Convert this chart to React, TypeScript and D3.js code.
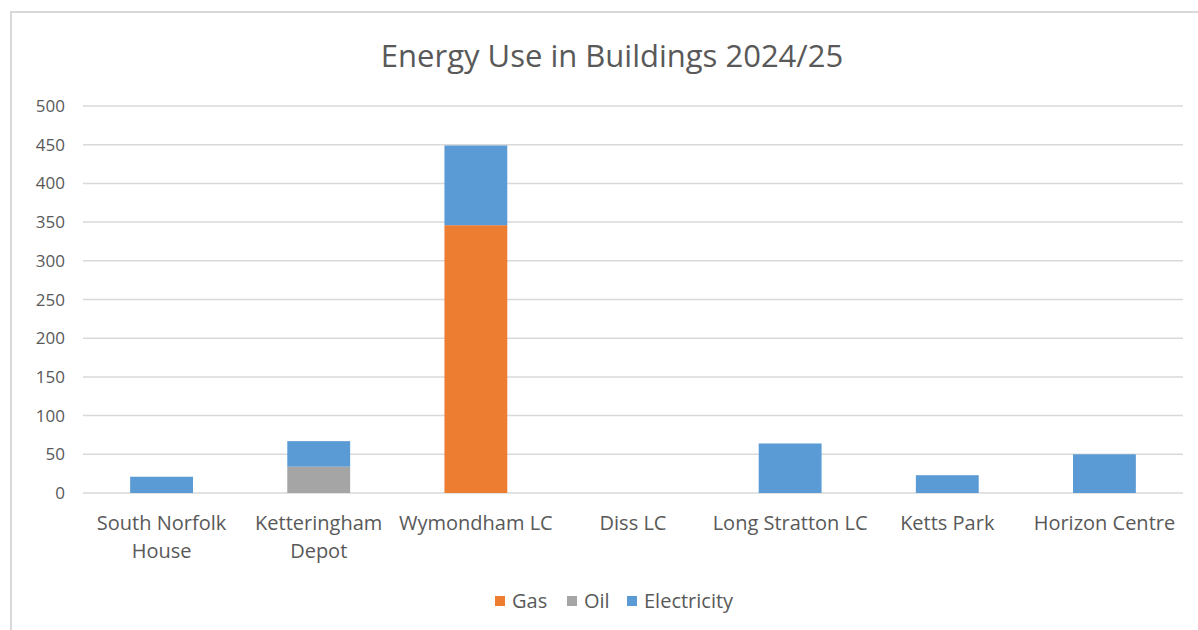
import React, { useEffect, useRef } from 'react';
import * as d3 from 'd3';

const width = 1198;
const height = 630;

const categories = [
  ['South Norfolk', 'House'],
  ['Ketteringham', 'Depot'],
  ['Wymondham LC'],
  ['Diss LC'],
  ['Long Stratton LC'],
  ['Ketts Park'],
  ['Horizon Centre'],
];
const seriesNames = ['Gas', 'Oil', 'Electricity'];
const seriesColors = ['#ED7D31', '#A5A5A5', '#5B9BD5'];
const gas = [0, 0, 346, 0, 0, 0, 0];
const oil = [0, 34, 0, 0, 0, 0, 0];
const electricity = [21, 33, 103, 0, 64, 23, 50];
const yTicks = [0, 50, 100, 150, 200, 250, 300, 350, 400, 450, 500];

const font = '"Open Sans", sans-serif';

const App = () => {
  const ref = useRef<SVGSVGElement>(null);

  useEffect(() => {
    if (!ref.current) return;
    const svg = d3.select(ref.current);
    svg.selectAll('*').remove();

    // chart border
    svg.append('rect')
      .attr('x', 11).attr('y', 12)
      .attr('width', width + 20).attr('height', height + 20)
      .attr('fill', '#fff')
      .attr('stroke', '#d9d9d9')
      .attr('stroke-width', 2);

    svg.append('text')
      .attr('x', 612).attr('y', 67)
      .attr('text-anchor', 'middle')
      .attr('font-family', font)
      .attr('font-size', 31)
      .attr('fill', '#595959')
      .text('Energy Use in Buildings 2024/25');

    const keys = categories.map((c) => c.join(' '));
    const x = d3.scaleBand().domain(keys).range([83, 1183]).paddingInner(0.6).paddingOuter(0.3);
    const y = d3.scaleLinear().domain([0, 500]).range([493, 106]);

    // gridlines
    svg.append('g').selectAll('line')
      .data(yTicks)
      .enter().append('line')
      .attr('x1', 83).attr('x2', 1183)
      .attr('y1', (d) => y(d)).attr('y2', (d) => y(d))
      .attr('stroke', '#d9d9d9')
      .attr('stroke-width', 1.5);

    svg.append('g').selectAll('text')
      .data(yTicks)
      .enter().append('text')
      .attr('x', 65)
      .attr('y', (d) => y(d) + 6)
      .attr('text-anchor', 'end')
      .attr('font-family', font)
      .attr('font-size', 17)
      .attr('fill', '#595959')
      .text((d) => d);

    const rows = keys.map((k, i) => ({ key: k, Gas: gas[i], Oil: oil[i], Electricity: electricity[i] }));
    const stack = d3.stack<any>().keys(seriesNames);
    const layers = stack(rows);

    svg.append('g').selectAll('g')
      .data(layers)
      .enter().append('g')
      .attr('fill', (d, i) => seriesColors[i])
      .selectAll('rect')
      .data((d) => d.filter((p) => p[1] - p[0] > 0))
      .enter().append('rect')
      .attr('x', (d) => x(d.data.key)!)
      .attr('width', x.bandwidth())
      .attr('y', (d) => y(d[1]))
      .attr('height', (d) => y(d[0]) - y(d[1]));

    // category labels
    const cat = svg.append('g').selectAll('text')
      .data(categories)
      .enter().append('text')
      .attr('text-anchor', 'middle')
      .attr('font-family', font)
      .attr('font-size', 20)
      .attr('fill', '#595959');
    cat.each(function (lines, i) {
      const cx = x(keys[i])! + x.bandwidth() / 2;
      lines.forEach((l, j) => {
        d3.select(this).append('tspan')
          .attr('x', cx)
          .attr('y', 530 + j * 28)
          .text(l);
      });
    });

    // legend
    const legendX = [495, 567, 627];
    const lg = svg.append('g').selectAll('g')
      .data(seriesNames)
      .enter().append('g')
      .attr('transform', (d, i) => `translate(${legendX[i]},601)`);
    lg.append('rect')
      .attr('x', 0).attr('y', -5)
      .attr('width', 10).attr('height', 10)
      .attr('fill', (d, i) => seriesColors[i]);
    lg.append('text')
      .attr('x', 17).attr('y', 7)
      .attr('font-family', font)
      .attr('font-size', 20)
      .attr('fill', '#595959')
      .text((d) => d);
  }, []);

  return (
    <div style={{ position: 'fixed', left: 0, top: 0 }}>
      <svg width={width} height={height} ref={ref}></svg>
    </div>
  );
};

export default App;
